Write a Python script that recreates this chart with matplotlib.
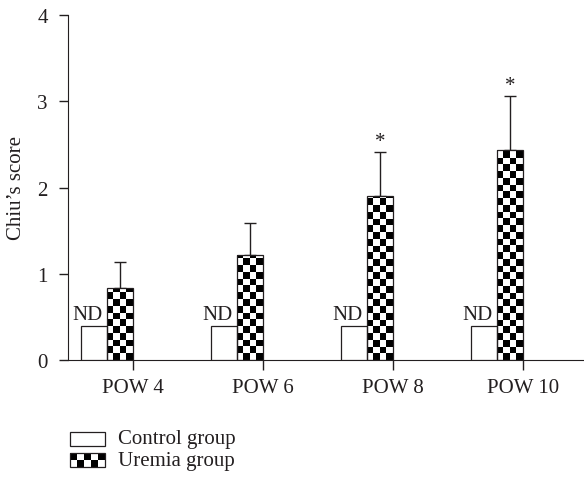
import numpy as np
import matplotlib
matplotlib.use('Agg')
import matplotlib.pyplot as plt
from matplotlib.patches import Rectangle

plt.rcParams['font.family'] = ['Liberation Serif', 'DejaVu Serif']
plt.rcParams['text.color'] = '#231f20'
plt.rcParams['xtick.labelcolor'] = '#231f20'
plt.rcParams['ytick.labelcolor'] = '#231f20'
plt.rcParams['axes.labelcolor'] = '#231f20'

# data
groups = ['POW 4', 'POW 6', 'POW 8', 'POW 10']
control = [0.4, 0.4, 0.4, 0.4]          # not detected, drawn as ND
uremia = [0.84, 1.22, 1.90, 2.44]
uremia_err = [0.30, 0.37, 0.51, 0.62]
significant = [False, False, True, True]
legend_labels = ['Control group', 'Uremia group']

w = 0.2
sq_y = 0.078   # checker square height in data units


def checker(ax, x0, x1, y0, y1, nx, clip):
    ny = int(np.ceil((y1 - y0) / sq_y)) + 1
    pat = (np.add.outer(np.arange(ny), np.arange(nx)) % 2).astype(float)
    im = ax.imshow(pat, cmap='gray_r', extent=(x0, x1, y0, y0 + ny * sq_y),
                   origin='lower', interpolation='nearest', aspect='auto',
                   zorder=2, vmin=0, vmax=1)
    im.set_clip_path(clip)


fig = plt.figure(figsize=(5.84, 4.81), dpi=100)
ax = fig.add_axes([68 / 584, 120 / 481, 516 / 584, 345 / 481])

x = np.arange(len(groups))
cb = ax.bar(x - 1.5 * w, control, w, color='white', edgecolor='#231f20', lw=0.9, zorder=3)
ub = ax.bar(x - 0.5 * w, uremia, w, color='white', edgecolor='#231f20', lw=0.9, zorder=3)
for b in ub:
    checker(ax, b.get_x(), b.get_x() + b.get_width(), 0, b.get_height(), 4, b)
    b.set_facecolor('none')
ax.errorbar(x - 0.5 * w, uremia, yerr=[np.zeros(len(uremia)), uremia_err], fmt='none',
            ecolor='#231f20', elinewidth=1, capsize=4.5, capthick=1, zorder=1)

for i in range(len(groups)):
    ax.text(x[i] - 1.5 * w - 0.05, control[i] + 0.02, 'ND', ha='center', va='bottom',
            fontsize=15)
    if significant[i]:
        ax.annotate('*', (x[i] - 0.5 * w, uremia[i] + uremia_err[i]), xytext=(0, 1),
                    textcoords='offset points', ha='center', va='bottom', fontsize=15)

ax.set_xlim(-0.5, 3.47)
ax.set_ylim(0, 4)
ax.set_xticks(x)
ax.set_xticklabels(groups)
ax.set_yticks([0, 1, 2, 3, 4])
ax.set_ylabel("Chiu\u2019s score", fontsize=15, labelpad=8)
ax.spines['top'].set_visible(False)
ax.spines['right'].set_visible(False)
ax.spines['left'].set_color('#231f20')
ax.spines['bottom'].set_color('#231f20')
ax.tick_params(axis='y', direction='out', length=6.5, width=1, pad=8, labelsize=15, color='#231f20')
ax.tick_params(axis='x', direction='out', length=7, width=1, pad=6, labelsize=15, color='#231f20')

# legend drawn in figure pixel space
lg = fig.add_axes([0, 0, 1, 1])
lg.set_xlim(0, 584)
lg.set_ylim(481, 0)
lg.axis('off')
r1 = Rectangle((70, 433), 35, 14, facecolor='white', edgecolor='#231f20', lw=0.9)
lg.add_patch(r1)
r2 = Rectangle((70, 454), 35, 14, facecolor='none', edgecolor='#231f20', lw=0.9, zorder=3)
lg.add_patch(r2)
pat = (np.add.outer(np.arange(2), np.arange(5)) % 2).astype(float)
im = lg.imshow(pat, cmap='gray_r', extent=(70, 105, 468, 454), origin='lower',
               interpolation='nearest', aspect='auto', vmin=0, vmax=1)
im.set_clip_path(r2)
lg.set_xlim(0, 584)
lg.set_ylim(481, 0)
lg.text(118, 440, legend_labels[0], va='center', ha='left', fontsize=15)
lg.text(118, 462, legend_labels[1], va='center', ha='left', fontsize=15)

fig.savefig('out.png', dpi=100)
